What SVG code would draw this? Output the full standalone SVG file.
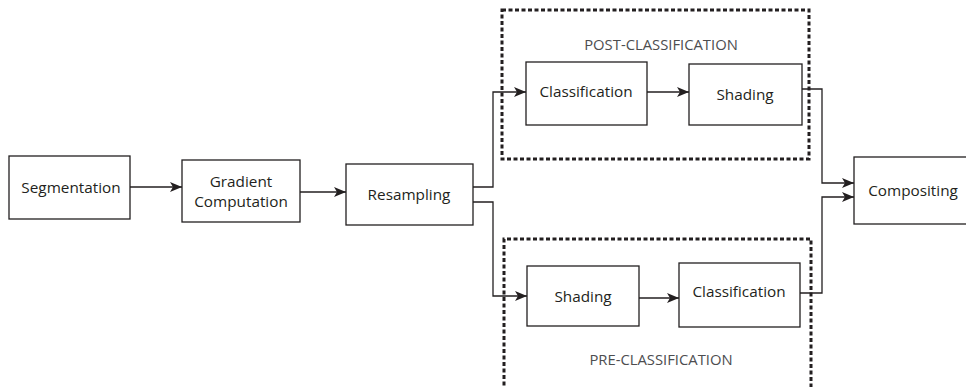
<svg xmlns="http://www.w3.org/2000/svg" width="966" height="387" viewBox="0 0 966 387">
  <defs>
    <marker id="arrow" markerWidth="12" markerHeight="10" refX="12" refY="5" orient="auto" markerUnits="userSpaceOnUse">
      <path d="M0,0 L12,5 L0,10 L3,5 Z" fill="#231f20"/>
    </marker>
    <style>
      .box { fill: #ffffff; stroke: #231f20; stroke-width: 1.3; }
      .lbl { font-family: "Open Sans", "Liberation Sans", sans-serif; font-size: 15.3px; fill: #231f20; text-anchor: middle; }
      .grp { font-family: "Open Sans", "Liberation Sans", sans-serif; font-size: 14.8px; fill: #4d4d4f; text-anchor: middle; }
      .dash { fill: none; stroke: #231f20; stroke-width: 3; stroke-dasharray: 4 2.5; }
      .wire { fill: none; stroke: #231f20; stroke-width: 1.3; }
    </style>
  </defs>

  <!-- dotted group outlines -->
  <g id="post-classification">
    <rect class="dash" x="502" y="10" width="307" height="149"/>
    <text class="grp" x="661" y="50">POST-CLASSIFICATION</text>
  </g>
  <g id="pre-classification">
    <path class="dash" d="M504,392 V239 H811 V392"/>
    <text class="grp" x="661" y="365">PRE-CLASSIFICATION</text>
  </g>

  <!-- connectors -->
  <g id="connectors">
    <path class="wire" d="M130,187 H182" marker-end="url(#arrow)"/>
    <path class="wire" d="M300,192 H346" marker-end="url(#arrow)"/>
    <path class="wire" d="M473,187 H493 V92 H526" marker-end="url(#arrow)"/>
    <path class="wire" d="M473,202 H493 V296 H527" marker-end="url(#arrow)"/>
    <path class="wire" d="M647,92 H689" marker-end="url(#arrow)"/>
    <path class="wire" d="M639,298 H679" marker-end="url(#arrow)"/>
    <path class="wire" d="M802,89 H822 V183 H854" marker-end="url(#arrow)"/>
    <path class="wire" d="M800,293 H822 V197 H854" marker-end="url(#arrow)"/>
  </g>

  <!-- nodes -->
  <g id="segmentation">
    <rect class="box" x="9" y="156" width="121" height="63"/>
    <text class="lbl" x="71" y="193">Segmentation</text>
  </g>
  <g id="gradient-computation">
    <rect class="box" x="182" y="160" width="118" height="62"/>
    <text class="lbl" x="241" y="187">Gradient</text>
    <text class="lbl" x="241" y="207">Computation</text>
  </g>
  <g id="resampling">
    <rect class="box" x="346" y="164" width="127" height="61"/>
    <text class="lbl" x="409" y="200">Resampling</text>
  </g>
  <g id="post-classify">
    <rect class="box" x="526" y="62" width="121" height="63"/>
    <text class="lbl" x="586" y="97">Classification</text>
  </g>
  <g id="post-shade">
    <rect class="box" x="689" y="64" width="113" height="61"/>
    <text class="lbl" x="745" y="100">Shading</text>
  </g>
  <g id="pre-shade">
    <rect class="box" x="527" y="266" width="112" height="60"/>
    <text class="lbl" x="583" y="302">Shading</text>
  </g>
  <g id="pre-classify">
    <rect class="box" x="679" y="263" width="121" height="64"/>
    <text class="lbl" x="739" y="297">Classification</text>
  </g>
  <g id="compositing">
    <rect class="box" x="854" y="157" width="120" height="67"/>
    <text class="lbl" x="913" y="196">Compositing</text>
  </g>
</svg>
